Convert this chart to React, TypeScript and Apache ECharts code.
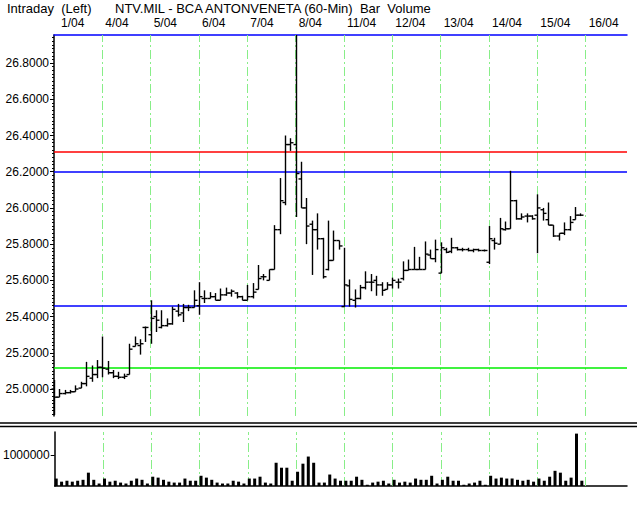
import React, { useEffect, useRef } from "react";
import * as echarts from "echarts";

// ---- data ----
const dayLabels = ["1/04", "4/04", "5/04", "6/04", "7/04", "8/04", "11/04", "12/04", "13/04", "14/04", "15/04", "16/04"];

const opens = [
  25.0, 24.955, 24.975, 24.98, 24.985, 25.005, 25.03, 25.06, 25.08,
  25.12, 25.11, 25.09, 25.07, 25.065, 25.08, 25.235, 25.24, 25.34,
  25.3, 25.4, 25.34, 25.35, 25.36, 25.43, 25.42, 25.45, 25.45,
  25.46, 25.5, 25.5, 25.51, 25.49, 25.52, 25.53, 25.53, 25.51,
  25.49, 25.51, 25.55, 25.62, 25.6, 25.66, 25.88, 26.03, 26.35,
  26.35, 26.16, 26.0, 25.91, 25.88, 25.83, 25.66, 25.71, 25.82,
  25.455, 25.57, 25.49, 25.5, 25.56, 25.59, 25.6, 25.575, 25.55,
  25.575, 25.59, 25.61, 25.655, 25.66, 25.66, 25.66, 25.74, 25.72,
  25.64, 25.77, 25.76, 25.78, 25.77, 25.77, 25.765, 25.77, 25.765,
  25.7, 25.82, 25.8, 25.88, 25.885, 26.04, 25.94, 25.955, 25.955,
  25.96, 25.99, 25.935, 25.905, 25.845, 25.86, 25.88, 25.935, 25.96,
];
const highs = [
  25.05, 25.0, 24.995, 24.995, 25.02, 25.04, 25.15, 25.13, 25.16,
  25.29, 25.155, 25.105, 25.095, 25.085, 25.25, 25.29, 25.275, 25.345,
  25.49, 25.435, 25.435, 25.39, 25.455, 25.47, 25.47, 25.465, 25.545,
  25.59, 25.545, 25.535, 25.53, 25.555, 25.56, 25.55, 25.535, 25.515,
  25.575, 25.585, 25.685, 25.635, 25.66, 25.905, 26.165, 26.4, 26.385,
  26.955, 26.255, 26.055, 25.93, 25.97, 25.835, 25.93, 25.875, 25.82,
  25.78, 25.605, 25.55, 25.575, 25.65, 25.635, 25.625, 25.59, 25.59,
  25.615, 25.61, 25.705, 25.715, 25.785, 25.73, 25.815, 25.77, 25.825,
  25.81, 25.78, 25.835, 25.785, 25.78, 25.78, 25.775, 25.775, 25.77,
  25.9, 25.835, 25.945, 25.925, 26.205, 26.045, 25.97, 25.97, 25.96,
  26.075, 26.0, 26.03, 25.905, 25.86, 25.92, 25.955, 26.005, 25.97,
];
const lows = [
  24.856, 24.955, 24.97, 24.975, 24.985, 25.005, 25.015, 25.04, 25.06,
  25.065, 25.08, 25.06, 25.055, 25.055, 25.08, 25.235, 25.19, 25.26,
  25.25, 25.315, 25.335, 25.345, 25.355, 25.4, 25.37, 25.43, 25.45,
  25.41, 25.475, 25.5, 25.49, 25.49, 25.515, 25.51, 25.5, 25.49,
  25.49, 25.5, 25.55, 25.6, 25.6, 25.66, 25.855, 26.015, 26.315,
  25.95, 26.0, 25.8, 25.63, 25.77, 25.61, 25.655, 25.71, 25.77,
  25.455, 25.455, 25.45, 25.495, 25.55, 25.54, 25.515, 25.515, 25.55,
  25.555, 25.555, 25.6, 25.655, 25.66, 25.66, 25.66, 25.72, 25.7,
  25.64, 25.75, 25.75, 25.765, 25.76, 25.76, 25.755, 25.76, 25.76,
  25.69, 25.77, 25.8, 25.875, 25.885, 25.935, 25.935, 25.92, 25.935,
  25.75, 25.93, 25.905, 25.84, 25.82, 25.85, 25.875, 25.935, 25.955,
];
const closes = [
  24.955, 24.975, 24.98, 24.985, 25.0, 25.03, 25.07, 25.08, 25.12,
  25.115, 25.09, 25.07, 25.065, 25.07, 25.22, 25.25, 25.25, 25.34,
  25.39, 25.38, 25.35, 25.36, 25.44, 25.41, 25.45, 25.45, 25.49,
  25.51, 25.5, 25.51, 25.49, 25.52, 25.53, 25.54, 25.51, 25.49,
  25.51, 25.535, 25.61, 25.62, 25.66, 25.88, 26.04, 26.35, 26.36,
  26.19, 26.0, 25.9, 25.88, 25.83, 25.62, 25.71, 25.82, 25.79,
  25.575, 25.495, 25.5, 25.56, 25.59, 25.59, 25.575, 25.545, 25.575,
  25.6, 25.59, 25.655, 25.66, 25.66, 25.66, 25.745, 25.72, 25.77,
  25.78, 25.755, 25.78, 25.77, 25.77, 25.765, 25.77, 25.765, 25.765,
  25.83, 25.805, 25.885, 25.885, 26.04, 25.94, 25.95, 25.955, 25.94,
  26.0, 25.97, 25.905, 25.845, 25.86, 25.88, 25.92, 25.96, 25.96,
];
const volumes = [
  240000, 140000, 170000, 140000, 170000, 200000, 430000, 200000, 80000,
  240000, 140000, 170000, 110000, 80000, 170000, 240000, 200000, 80000,
  300000, 270000, 200000, 140000, 110000, 110000, 240000, 170000, 170000,
  330000, 270000, 200000, 110000, 80000, 80000, 170000, 140000, 80000,
  240000, 240000, 300000, 110000, 80000, 750000, 590000, 590000, 170000,
  460000, 720000, 950000, 750000, 110000, 110000, 370000, 240000, 170000,
  170000, 170000, 300000, 200000, 40000, 110000, 140000, 170000, 80000,
  200000, 110000, 140000, 110000, 240000, 200000, 200000, 330000, 80000,
  200000, 300000, 170000, 170000, 40000, 80000, 110000, 170000, 40000,
  330000, 240000, 270000, 240000, 240000, 200000, 170000, 200000, 140000,
  240000, 170000, 300000, 490000, 430000, 170000, 270000, 1690000, 170000,
];
const levelLines = [
  { value: 26.31, color: "#ff0000" },
  { value: 26.2, color: "#0000ff" },
  { value: 25.456, color: "#0000ff" },
  { value: 25.116, color: "#00ee00" },
];
const priceTicks = [25.0, 25.2, 25.4, 25.6, 25.8, 26.0, 26.2, 26.4, 26.6, 26.8];
const volumeTicks = [1000000];

const YMIN = 24.851;
const YMAX = 26.955;
const XMAX = 106.7;
const VMAX = 1742000;
const FONT = '"Liberation Sans", Arial, Helvetica, sans-serif';
const GRIDGREEN = "#88ee88";

export default function App() {
  const ref = useRef<HTMLDivElement>(null);
  useEffect(() => {
    if (!ref.current) return;
    const chart = echarts.init(ref.current, undefined, { renderer: "svg" });

    const minorTicks: number[] = [];
    for (let k = Math.ceil(YMIN * 50); k <= Math.floor(YMAX * 50); k++) {
      const v = k / 50;
      minorTicks.push(Number(v.toFixed(2)));
    }
    const dayBounds = dayLabels.map((_, i) => i * 9);
    const ohlc = opens.map((o, i) => [i, o, highs[i], lows[i], closes[i]]);
    const vol = volumes.map((v, i) => [i + 0.28, v]);

    const lineStyleBars = { stroke: "#000", lineWidth: 1.4 };

    const option: any = {
      animation: false,
      backgroundColor: "#ffffff",
      title: [
        {
          text: "Intraday  (Left)",
          left: 7,
          top: 2,
          padding: 0,
          textStyle: { fontSize: 13, fontWeight: "normal", color: "#000", fontFamily: FONT },
        },
        {
          text: "NTV.MIL - BCA ANTONVENETA (60-Min)  Bar  Volume",
          left: 115,
          top: 2,
          padding: 0,
          textStyle: { fontSize: 13, fontWeight: "normal", color: "#000", fontFamily: FONT },
        },
      ],
      grid: [
        { left: 54, top: 35, width: 573, height: 381 },
        { left: 54, top: 432, width: 573, height: 54 },
      ],
      xAxis: [
        {
          gridIndex: 0,
          type: "value",
          position: "top",
          min: 0,
          max: XMAX,
          interval: 9,
          axisLine: { show: true, onZero: false, lineStyle: { color: "#0000ff", width: 1.5 } },
          axisTick: { show: false },
          splitLine: { show: false },
          axisLabel: {
            show: true,
            align: "left",
            margin: 6,
            color: "#000",
            fontSize: 12,
            fontFamily: FONT,
            padding: [0, 0, 0, 3],
            showMaxLabel: false,
            formatter: (v: number) => {
              const idx = Math.round(v / 9);
              if (Math.abs(v - idx * 9) > 0.01 || idx >= dayLabels.length) return "";
              return idx === 0 ? "{f|" + dayLabels[0] + "}" : dayLabels[idx];
            },
            rich: { f: { padding: [0, 0, 0, 4], fontSize: 12, fontFamily: FONT, color: "#000" } },
          },
        },
        {
          gridIndex: 1,
          type: "value",
          position: "bottom",
          min: 0,
          max: XMAX,
          interval: 9,
          axisLine: { show: true, onZero: false, lineStyle: { color: "#000", width: 1.5 } },
          axisTick: { show: false },
          axisLabel: { show: false },
          splitLine: { show: false },
        },
      ],
      yAxis: [
        {
          gridIndex: 0,
          type: "value",
          position: "left",
          min: YMIN,
          max: YMAX,
          axisLine: { show: true, onZero: false, lineStyle: { color: "#000", width: 1.5 } },
          axisTick: { show: true, customValues: priceTicks, length: 4, lineStyle: { color: "#000" } },
          axisLabel: {
            show: true,
            customValues: priceTicks,
            formatter: (v: number) => v.toFixed(4),
            margin: 5,
            color: "#000",
            fontSize: 12,
            fontFamily: FONT,
          },
          splitLine: { show: false },
        },
        {
          gridIndex: 0,
          type: "value",
          position: "left",
          min: YMIN,
          max: YMAX,
          axisLine: { show: false },
          axisTick: { show: true, customValues: minorTicks, length: 2, lineStyle: { color: "#000" } },
          axisLabel: { show: false },
          splitLine: { show: false },
        },
        {
          gridIndex: 1,
          type: "value",
          position: "left",
          min: 0,
          max: VMAX,
          axisLine: { show: true, onZero: false, lineStyle: { color: "#000", width: 1.5 } },
          axisTick: { show: true, customValues: volumeTicks, length: 4, lineStyle: { color: "#000" } },
          axisLabel: {
            show: true,
            customValues: volumeTicks,
            formatter: (v: number) => String(v),
            margin: 5,
            color: "#000",
            fontSize: 12,
            fontFamily: FONT,
          },
          splitLine: { show: false },
        },
      ],
      series: [
        {
          name: "grid0",
          type: "scatter",
          xAxisIndex: 0,
          yAxisIndex: 0,
          data: [[0, YMIN]],
          symbolSize: 0,
          silent: true,
          z: 1,
          markLine: {
            silent: true,
            symbol: ["none", "none"],
            label: { show: false },
            animation: false,
            data: [
              ...dayBounds.slice(1).map((d) => ({
                xAxis: d,
                lineStyle: { color: GRIDGREEN, width: 1, type: [9, 3, 2, 3] },
              })),
              ...levelLines.map((l) => ({
                yAxis: l.value,
                lineStyle: { color: l.color, width: 1.5, type: "solid" },
              })),
            ],
          },
        },
        {
          name: "grid1",
          type: "scatter",
          xAxisIndex: 1,
          yAxisIndex: 2,
          data: [[0, 0]],
          symbolSize: 0,
          silent: true,
          z: 1,
          markLine: {
            silent: true,
            symbol: ["none", "none"],
            label: { show: false },
            animation: false,
            data: dayBounds.slice(1).map((d) => ({
              xAxis: d,
              lineStyle: { color: GRIDGREEN, width: 1, type: [9, 3, 2, 3] },
            })),
          },
        },
        {
          name: "Price",
          type: "custom",
          xAxisIndex: 0,
          yAxisIndex: 0,
          z: 5,
          data: ohlc,
          encode: { x: 0, y: [1, 2, 3, 4] },
          renderItem: (params: any, api: any) => {
            const x = api.value(0);
            const o = api.coord([x, api.value(1)]);
            const h = api.coord([x, api.value(2)]);
            const l = api.coord([x, api.value(3)]);
            const c = api.coord([x, api.value(4)]);
            const px = Math.round(h[0]) + 0.5;
            return {
              type: "group",
              children: [
                { type: "line", shape: { x1: px, y1: h[1], x2: px, y2: l[1] }, style: lineStyleBars },
                { type: "line", shape: { x1: px - 3, y1: o[1], x2: px, y2: o[1] }, style: lineStyleBars },
                { type: "line", shape: { x1: px, y1: c[1], x2: px + 3, y2: c[1] }, style: lineStyleBars },
              ],
            };
          },
        },
        {
          name: "Volume",
          type: "bar",
          xAxisIndex: 1,
          yAxisIndex: 2,
          barWidth: 3,
          z: 5,
          data: vol,
          itemStyle: { color: "#000" },
        },
      ],
      graphic: [
        { type: "line", shape: { x1: 0, y1: 423, x2: 637, y2: 423 }, style: { stroke: "#000", lineWidth: 1.5 } },
        { type: "line", shape: { x1: 0, y1: 426.5, x2: 637, y2: 426.5 }, style: { stroke: "#000", lineWidth: 1.5 } },
      ],
    };
    chart.setOption(option);
    return () => chart.dispose();
  }, []);
  return <div ref={ref} style={{ width: 637, height: 518, position: "absolute", left: 0, top: 0, background: "#fff" }} />;
}
